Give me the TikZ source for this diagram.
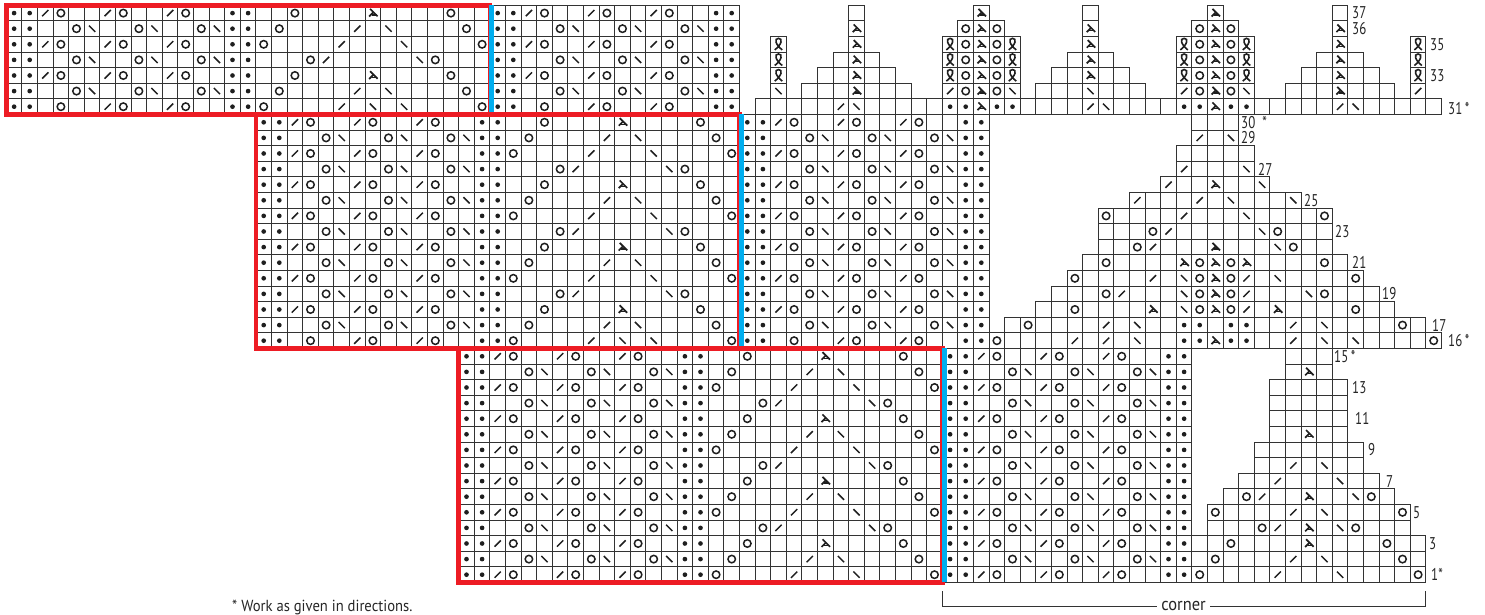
\documentclass[tikz,border=0pt]{standalone}
\usepackage{fontspec}
\setmainfont[FakeStretch=0.76]{PT Sans}
\newfontfamily\notefont[FakeStretch=0.915]{PT Sans}
\definecolor{framered}{HTML}{ED1C24}
\definecolor{frameblue}{HTML}{00AEEF}
\definecolor{gridgray}{HTML}{333333}
\tikzset{
  gridcell/.style={draw=gridgray,line width=1.15pt},
  symline/.style={draw=black!88,line width=1.5pt},
  yoring/.style={draw=black!88,line width=1.5pt},
  redframe/.style={draw=framered,line width=4.6pt,line join=miter},
  blueedge/.style={draw=frameblue,line width=4.8pt},
  rowlabel/.style={anchor=west,inner sep=0pt,font=\fontsize{17}{18}\selectfont,text=black!85},
  notelabel/.style={anchor=west,inner sep=0pt,font=\notefont\fontsize{16}{17}\selectfont,text=black!85},
  cornerlabelstyle/.style={anchor=center,inner ysep=1pt,inner xsep=4.5pt,font=\notefont\fontsize{18}{19}\selectfont,text=black!85},
  bracketline/.style={draw=black!80,line width=1pt}
}
\newcommand\Cells[3]{\pgfmathtruncatemacro\ca{#2}\pgfmathtruncatemacro\cb{#3}%
  \foreach \ii in {\ca,...,\cb}{\draw[gridcell] (\ii,#1-1) rectangle ++(1,1);}}
\newcommand\Dotc[2]{\fill[black!88] ({#1+.5},{#2-.5}) circle (.15);}
\newcommand\Yoc[2]{\draw[yoring] ({#1+.5},{#2-.5}) circle (.24);}
\newcommand\Slc[2]{\draw[symline] ({#1+.5-.2},{#2-.5-.2}) -- ++(.4,.4);}
\newcommand\Bsc[2]{\draw[symline] ({#1+.5-.2},{#2-.5+.2}) -- ++(.4,-.4);}
\newcommand\Tric[2]{\draw[symline,line width=1.7pt] ({#1+.5-.18},{#2-.5+.27}) -- ++(.48,-.48);
  \draw[symline,line width=1.7pt] ({#1+.5+.03},{#2-.5+.05}) -- ++(-.27,-.27);
  \draw[symline,line width=1.3pt] ({#1+.5-.08},{#2-.5-.12}) -- ++(.32,0);}
\newcommand\Twc[2]{\draw[symline,line width=1.6pt] ({#1+.5-.24},{#2-.5-.36}) .. controls ({#1+.5+.2},{#2-.5-.02}) and ({#1+.5+.3},{#2-.5+.38}) .. ({#1+.5},{#2-.5+.38}) .. controls ({#1+.5-.3},{#2-.5+.38}) and ({#1+.5-.2},{#2-.5-.02}) .. ({#1+.5+.24},{#2-.5-.36});}
\newcommand\Ds[2]{\foreach \jj in {#2}{\Dotc{\jj}{#1}}}
\newcommand\Ys[2]{\foreach \jj in {#2}{\Yoc{\jj}{#1}}}
\newcommand\Ss[2]{\foreach \jj in {#2}{\Slc{\jj}{#1}}}
\newcommand\Bs[2]{\foreach \jj in {#2}{\Bsc{\jj}{#1}}}
\newcommand\Ts[2]{\foreach \jj in {#2}{\Tric{\jj}{#1}}}
\newcommand\Ws[2]{\foreach \jj in {#2}{\Twc{\jj}{#1}}}
% first sixteen stitches of a lace row
\newcommand\LaceCommon[2]{\foreach \mm in {0,1,14,15}{\Dotc{#1+\mm}{#2}}}
\newcommand\LaceA[2]{\LaceCommon{#1}{#2}%
  \foreach \mm in {3,7,11}{\Yoc{#1+\mm}{#2}}%
  \foreach \mm in {6,10}{\Slc{#1+\mm}{#2}}}
\newcommand\LaceB[2]{\LaceCommon{#1}{#2}%
  \foreach \mm in {4,8,12}{\Yoc{#1+\mm}{#2}}%
  \foreach \mm in {5,9,13}{\Bsc{#1+\mm}{#2}}}
\newcommand\Motif[3]{\ifcase#3\relax
   \Yoc{#1+16}{#2}\Slc{#1+21}{#2}\Bsc{#1+25}{#2}\Yoc{#1+30}{#2}%
  \or \Yoc{#1+17}{#2}\Slc{#1+22}{#2}\Bsc{#1+24}{#2}\Yoc{#1+29}{#2}%
  \or \Yoc{#1+18}{#2}\Tric{#1+23}{#2}\Yoc{#1+28}{#2}%
  \or \Yoc{#1+19}{#2}\Slc{#1+20}{#2}\Bsc{#1+26}{#2}\Yoc{#1+27}{#2}%
  \fi}
% #1 first column, #2 first chart row, #3 rows-1, #4 = 1 when the first row keeps its slash
\newcommand\Band[4]{\foreach \rr in {0,...,#3}{%
   \pgfmathtruncatemacro\nn{#2+\rr}\pgfmathtruncatemacro\kk{mod(\rr,4)}%
   \Cells{\nn}{#1}{#1+46}%
   \ifodd\rr\relax
     \LaceB{#1}{\nn}\LaceB{#1+31}{\nn}%
   \else
     \LaceA{#1}{\nn}\LaceA{#1+31}{\nn}%
     \ifnum\rr=0\relax
       \ifnum#4=1\relax \Slc{#1+2}{\nn}\Slc{#1+33}{\nn}\else \Bsc{#1+23}{\nn}\fi
     \else \Slc{#1+2}{\nn}\Slc{#1+33}{\nn}\fi
   \fi
   \Motif{#1}{\nn}{\kk}}}
\newcommand\Lab[3]{\node[rowlabel] (lab#2) at ({(#1-6.3)/15.6},{#2-.5}) {#3};}
\begin{document}
\begin{tikzpicture}[x=15.6pt,y=15.6pt]
\useasboundingbox ({-6.3/15.6},{-32.5/15.6}) rectangle ({(1485-6.3)/15.6},{582.5/15.6});
\fill[white] ({-6.3/15.6},{-32.5/15.6}) rectangle ({(1485-6.3)/15.6},{582.5/15.6});
% lace bands
\Band{0}{31}{6}{0}
\Band{16}{16}{14}{0}
\Band{29}{1}{14}{1}
% corner, upper part
\Cells{31}{48}{91}\Ss{31}{53,69,85}\Bs{31}{54,70,86}\Ds{31}{60,61,63,64,75,76,78,79}\Ts{31}{62,77}
\Cells{32}{49}{49}\Cells{32}{51}{57}\Cells{32}{60}{64}\Cells{32}{66}{72}\Cells{32}{75}{79}\Cells{32}{82}{88}\Cells{32}{90}{90}
\Bs{32}{49,64,69,79}\Ss{32}{60,75,90}\Ys{32}{61,63,76,78}\Ts{32}{54,62,77,85}
\Cells{33}{49}{49}\Cells{33}{52}{56}\Cells{33}{60}{64}\Cells{33}{67}{71}\Cells{33}{75}{79}\Cells{33}{83}{87}\Cells{33}{90}{90}
\Cells{34}{49}{49}\Cells{34}{53}{55}\Cells{34}{60}{64}\Cells{34}{68}{70}\Cells{34}{75}{79}\Cells{34}{84}{86}\Cells{34}{90}{90}
\Cells{35}{49}{49}\Cells{35}{54}{54}\Cells{35}{60}{64}\Cells{35}{69}{69}\Cells{35}{75}{79}\Cells{35}{85}{85}\Cells{35}{90}{90}
\foreach \rw in {33,34,35}{\Ws{\rw}{49,60,64,75,79,90}\Ys{\rw}{61,63,76,78}\Ts{\rw}{54,62,69,77,85}}
\Cells{36}{54}{54}\Cells{36}{61}{63}\Cells{36}{69}{69}\Cells{36}{76}{78}\Cells{36}{85}{85}
\Ys{36}{61,63,76,78}\Ts{36}{54,62,69,77,85}
\Cells{37}{54}{54}\Cells{37}{62}{62}\Cells{37}{69}{69}\Cells{37}{77}{77}\Cells{37}{85}{85}
\Ts{37}{62,77}
% corner, middle part
\Cells{16}{63}{91}\Ys{16}{63,91}\Ss{16}{68,70,82}\Bs{16}{72,84,86}\Ds{16}{75,76,78,79}\Ts{16}{77}
\Cells{17}{64}{90}\Ys{17}{65,89}\Ss{17}{70,82}\Bs{17}{72,84}\Ds{17}{75,76,78,79}
\Cells{18}{66}{88}\Ys{18}{68,76,78,86}\Ts{18}{73,77,81}\Bs{18}{75}\Ss{18}{79}
\Cells{19}{67}{87}\Ys{19}{70,76,78,84}\Ss{19}{71,79}\Bs{19}{75,83}\Ts{19}{77}
\Cells{20}{68}{86}\Ys{20}{68,76,78,86}\Ss{20}{73,79}\Bs{20}{75,81}\Ts{20}{77}
\Cells{21}{69}{85}\Ys{21}{70,76,78,84}\Ts{21}{75,77,79}
\Cells{22}{70}{84}\Ys{22}{72,82}\Ss{22}{73}\Bs{22}{81}\Ts{22}{77}
\Cells{23}{70}{84}\Ys{23}{73,81}\Ss{23}{74}\Bs{23}{80}
\Cells{24}{70}{84}\Ys{24}{70,84}\Ss{24}{75}\Bs{24}{79}
\Cells{25}{72}{82}\Ss{25}{72,76}\Bs{25}{78,82}
\Cells{26}{74}{80}\Ss{26}{74}\Bs{26}{80}\Ts{26}{77}
\Cells{27}{75}{79}\Ss{27}{75}\Bs{27}{79}
\Cells{28}{75}{79}
\Cells{29}{76}{78}\Ss{29}{76}\Bs{29}{78}
\Cells{30}{76}{78}
% corner, lower part
\Cells{15}{82}{84}
\Cells{14}{82}{84}\Ts{14}{83}
\Cells{13}{81}{85}\Cells{12}{81}{85}\Cells{11}{81}{85}
\Cells{10}{81}{85}\Ts{10}{83}
\Cells{9}{80}{86}
\Cells{8}{80}{86}\Ss{8}{82}\Bs{8}{84}
\Cells{7}{79}{87}\Ss{7}{81}\Bs{7}{85}
\Cells{6}{78}{88}\Ys{6}{79,87}\Ss{6}{80}\Bs{6}{86}\Ts{6}{83}
\Cells{5}{77}{89}\Ys{5}{77,89}\Ss{5}{82}\Bs{5}{84}
\Cells{4}{77}{89}\Ys{4}{80,86}\Ss{4}{81}\Bs{4}{85}\Ts{4}{83}
\Cells{3}{76}{90}\Ys{3}{78,88}\Ts{3}{83}
\Cells{2}{76}{90}\Ys{2}{77,89}\Ss{2}{82}\Bs{2}{84}
\Cells{1}{76}{90}\Ys{1}{76,90}\Ss{1}{81}\Bs{1}{85}
% repeat frames
\draw[redframe] (0,30) rectangle (31,37);
\draw[blueedge] (31.12,30) -- (31.12,37);
\draw[redframe] (16,15) rectangle (47,30);
\draw[blueedge] (47.12,15) -- (47.12,30);
\draw[redframe] (29,0) rectangle (60,15);
\draw[blueedge] (60.12,0) -- (60.12,15);
% row labels
\Lab{1352}{37}{37}\Lab{1352}{36}{36}\Lab{1430}{35}{35}\Lab{1430}{33}{33}
\node[rowlabel,yshift=-2pt] (lab31) at ({(1448-6.3)/15.6},30.5) {31\hspace{2.5pt}*};
\Lab{1241}{30}{30\hspace{7pt}*}\Lab{1241}{29}{29}\Lab{1258}{27}{27}
\Lab{1304}{25}{25}\Lab{1335}{23}{23}\Lab{1352}{21}{21}\Lab{1382}{19}{19}
\Lab{1432}{17}{17}\Lab{1448}{16}{16\hspace{2.5pt}*}\Lab{1334}{15}{15\hspace{2.5pt}*}\Lab{1352}{13}{13}
\Lab{1355}{11}{11}\Lab{1368}{9}{9}\Lab{1386}{7}{7}\Lab{1413}{5}{5}
\Lab{1429}{3}{3}\Lab{1431}{1}{1*}
% note and corner bracket
\node[notelabel] (note) at ({(232-6.3)/15.6},{-25/15.6}) {* Work as given in directions.};
\node[cornerlabelstyle] (cornerlabel) at ({(1183.5-6.3)/15.6},{-24/15.6}) {corner};
\coordinate (bl) at ({(942.5-6.3)/15.6},{-9/15.6});
\coordinate (br) at (91,{-9/15.6});
\draw[bracketline] (bl) |- (cornerlabel.west);
\draw[bracketline] (br) |- (cornerlabel.east);
\end{tikzpicture}
\end{document}
